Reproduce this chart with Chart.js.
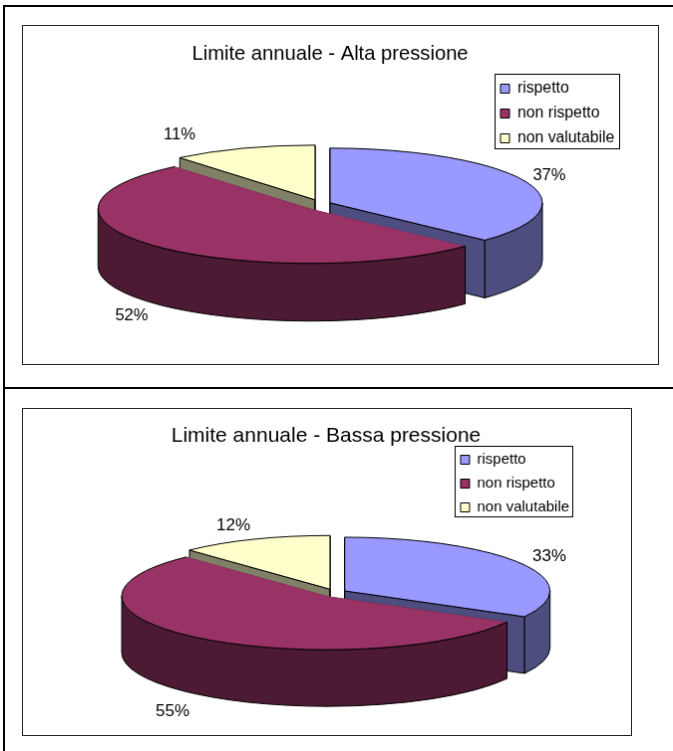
<!DOCTYPE html>
<html>
<head>
<meta charset="utf-8">
<title>Limite annuale</title>
<script src="https://cdn.jsdelivr.net/npm/chart.js@4"></script>
<style>
    html, body { margin: 0; padding: 0; background: #fff; overflow: hidden; }
    body { width: 673px; height: 751px; position: relative; }
    .rule { position: absolute; background: #000; }
    canvas { position: absolute; box-sizing: border-box; border: 1px solid #222; }
</style>
</head>
<body>
<div class="rule" style="left:3px;top:5px;width:2px;height:746px"></div>
<div class="rule" style="left:3px;top:5px;width:670px;height:2px"></div>
<div class="rule" style="left:3px;top:387px;width:670px;height:2px"></div>
<canvas id="chartAlta"></canvas>
<canvas id="chartBassa"></canvas>
<script>
const categories = ['rispetto', 'non rispetto', 'non valutabile'];
const altaValues = [37, 52, 11];
const bassaValues = [33, 55, 12];
const altaTitle = 'Limite annuale - Alta pressione';
const bassaTitle = 'Limite annuale - Bassa pressione';

const topColors = ['#9999ff', '#993366', '#ffffcc'];
const wallColors = ['#4d4d80', '#4d1a33', '#808066'];
const fontFamily = '"Liberation Sans", Arial, sans-serif';

const altaLayout = {
    frame: { x: 22, y: 25, w: 637, h: 340 },
    centre: { x: 319, y: 205, rx: 213, ry: 55, depth: 58, kx: 12, ky: 5.5 },
    title: { x: 330, y: 53, size: 20.2 },
    legend: { x: 495, y: 73, w: 126, h: 76, textSize: 15.8, rowGap: 25, firstRow: 88 },
    labels: [[550, 175], [131, 316], [179, 134]],
    labelSize: 16.6
};

const bassaLayout = {
    frame: { x: 22, y: 408, w: 610, h: 328 },
    centre: { x: 334.4, y: 593, rx: 206, ry: 54, depth: 57, kx: 12, ky: 4 },
    title: { x: 326, y: 435, size: 21 },
    legend: { x: 455, y: 445, w: 119, h: 72, textSize: 15, rowGap: 24, firstRow: 459 },
    labels: [[550, 556], [172, 712], [233, 525]],
    labelSize: 17
};

// tilts the library's arcs into a thick, exploded disc and moves title and legend
function pie3dPlugin(layout) {
    const { frame, centre, title, legend, labels, labelSize } = layout;

    const apexOf = (arc) => {
        const mid = (arc.startAngle + arc.endAngle) / 2;
        return {
            x: centre.x + centre.kx * Math.cos(mid),
            y: centre.y + centre.ky * Math.sin(mid)
        };
    };

    const radialWall = (ctx, apex, angle, stroke) => {
        const px = apex.x + centre.rx * Math.cos(angle);
        const py = apex.y + centre.ry * Math.sin(angle);
        ctx.beginPath();
        ctx.moveTo(apex.x, apex.y);
        ctx.lineTo(px, py);
        ctx.lineTo(px, py + centre.depth);
        ctx.lineTo(apex.x, apex.y + centre.depth);
        ctx.closePath();
        ctx.fill();
        if (stroke) ctx.stroke();
    };

    const outerWall = (ctx, apex, arc) => {
        const from = Math.max(arc.startAngle, 0);
        const to = Math.min(arc.endAngle, Math.PI);
        if (to <= from) return;
        ctx.beginPath();
        ctx.ellipse(apex.x, apex.y, centre.rx, centre.ry, 0, from, to);
        ctx.ellipse(apex.x, apex.y + centre.depth, centre.rx, centre.ry, 0, to, from, true);
        ctx.closePath();
        ctx.fill();
        ctx.stroke();
    };

    return {
        id: 'pie3d',
        afterLayout(chart) {
            const t = chart.titleBlock;
            const lineHeight = title.size * 1.2;
            t.left = title.x - frame.x - 200;
            t.right = title.x - frame.x + 200;
            t.width = 400;
            t.top = title.y - frame.y - lineHeight / 2;
            t.bottom = t.top + lineHeight;

            const l = chart.legend;
            const pad = l.options.labels.padding;
            l.left = legend.x - frame.x + 6 - pad;
            l.right = l.left + legend.w;
            l.top = legend.firstRow - frame.y - pad - legend.textSize / 2;
            l.bottom = chart.height;
        },
        beforeDatasetDraw(chart) {
            const ctx = chart.ctx;
            const arcs = chart.getDatasetMeta(0).data;
            const order = arcs.map((arc, i) => i).sort((a, b) => apexOf(arcs[a]).y - apexOf(arcs[b]).y);

            ctx.save();
            ctx.translate(-frame.x, -frame.y);
            ctx.lineWidth = 1;
            ctx.strokeStyle = '#000';
            ctx.lineJoin = 'round';

            order.forEach((i) => {
                const arc = arcs[i];
                const apex = apexOf(arc);
                const plainEdges = i === 1;

                ctx.fillStyle = wallColors[i];
                radialWall(ctx, apex, arc.startAngle, !plainEdges);
                radialWall(ctx, apex, arc.endAngle, !plainEdges);
                outerWall(ctx, apex, arc);

                // the top face is still the library's own arc, only squashed
                ctx.save();
                ctx.translate(apex.x, apex.y);
                ctx.scale(centre.rx / arc.outerRadius, centre.ry / arc.outerRadius);
                ctx.translate(-arc.x, -arc.y);
                arc.draw(ctx, chart.chartArea);
                ctx.restore();

                ctx.beginPath();
                if (plainEdges) {
                    ctx.ellipse(apex.x, apex.y, centre.rx, centre.ry, 0, arc.startAngle, arc.endAngle);
                } else {
                    ctx.moveTo(apex.x, apex.y);
                    ctx.ellipse(apex.x, apex.y, centre.rx, centre.ry, 0, arc.startAngle, arc.endAngle);
                    ctx.closePath();
                }
                ctx.stroke();
            });

            ctx.restore();
            return false;
        },
        afterDraw(chart) {
            const ctx = chart.ctx;
            const values = chart.data.datasets[0].data;

            ctx.save();
            ctx.translate(-frame.x, -frame.y);
            ctx.fillStyle = '#000';
            ctx.font = labelSize + 'px ' + fontFamily;
            ctx.textAlign = 'center';
            ctx.textBaseline = 'middle';
            values.forEach((value, i) => {
                ctx.fillText(value + '%', labels[i][0], labels[i][1]);
            });

            ctx.strokeStyle = '#000';
            ctx.lineWidth = 1;
            ctx.strokeRect(legend.x + 0.5, legend.y + 0.5, legend.w - 1, legend.h - 1);
            ctx.restore();
        }
    };
}

function drawPie(canvasId, values, titleText, layout) {
    const canvas = document.getElementById(canvasId);
    canvas.style.left = layout.frame.x + 'px';
    canvas.style.top = layout.frame.y + 'px';
    canvas.style.width = layout.frame.w + 'px';
    canvas.style.height = layout.frame.h + 'px';
    canvas.width = layout.frame.w;
    canvas.height = layout.frame.h;

    const baseLabels = Chart.overrides.doughnut.plugins.legend.labels.generateLabels;

    return new Chart(canvas, {
        type: 'pie',
        data: {
            labels: categories,
            datasets: [{
                data: values,
                backgroundColor: topColors,
                borderWidth: 0
            }]
        },
        options: {
            responsive: false,
            animation: false,
            events: [],
            plugins: {
                tooltip: { enabled: false },
                title: {
                    display: true,
                    text: titleText,
                    color: '#000',
                    padding: 0,
                    font: { family: fontFamily, size: layout.title.size, weight: 'normal' }
                },
                legend: {
                    display: true,
                    position: 'right',
                    align: 'start',
                    labels: {
                        color: '#000',
                        boxWidth: 9,
                        boxHeight: 9,
                        padding: layout.legend.rowGap - layout.legend.textSize,
                        font: { family: fontFamily, size: layout.legend.textSize },
                        generateLabels: (chart) => baseLabels(chart).map((item) => ({
                            ...item,
                            strokeStyle: '#000',
                            lineWidth: 1
                        }))
                    }
                }
            }
        },
        plugins: [pie3dPlugin(layout)]
    });
}

drawPie('chartAlta', altaValues, altaTitle, altaLayout);
drawPie('chartBassa', bassaValues, bassaTitle, bassaLayout);
</script>
</body>
</html>
